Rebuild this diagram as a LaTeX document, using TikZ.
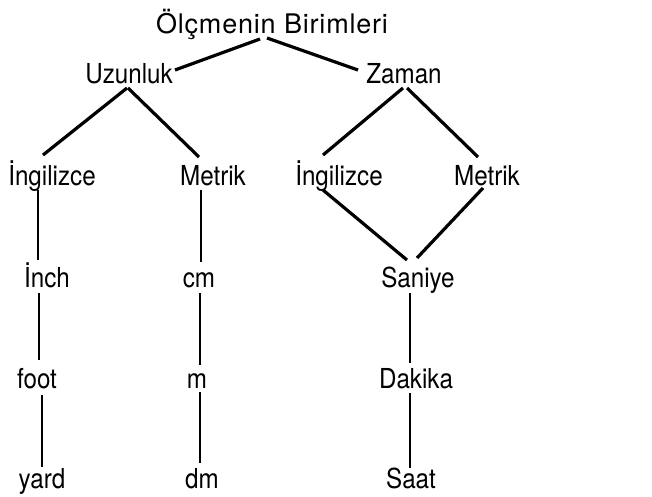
\documentclass[tikz,border=0pt]{standalone}
\usepackage{fontspec}
\setmainfont{TeX Gyre Heros}[FakeStretch=0.88]
\newfontfamily\titlefont{TeX Gyre Heros}[LetterSpace=3]
\usetikzlibrary{calc}
\begin{document}
\begin{tikzpicture}[x=1pt,y=-1pt,
  lbl/.style={anchor=base, inner sep=0pt, font=\fontsize{27.5}{32}\selectfont},
  edge/.style={line width=3.2pt},
  vline/.style={line width=2pt}]
\useasboundingbox (0,0) rectangle (652,496);
% nodes
\node[lbl, font=\titlefont\fontsize{27}{32}\selectfont] (top) at (272,33) {Ölçmenin Birimleri};
\node[lbl] (uz) at (129,83) {Uzunluk};
\node[lbl] (za) at (404,83) {Zaman};
\node[lbl] (ing1) at (52,185) {İngilizce};
\node[lbl] (met1) at (213,185) {Metrik};
\node[lbl] (ing2) at (339,185) {İngilizce};
\node[lbl] (met2) at (487,185) {Metrik};
\node[lbl] (inch) at (47,287) {İnch};
\node[lbl] (cm) at (199,287) {cm};
\node[lbl] (san) at (418,287) {Saniye};
\node[lbl] (foot) at (37,388) {foot};
\node[lbl] (m) at (197,388) {m};
\node[lbl] (dak) at (416,388) {Dakika};
\node[lbl] (yard) at (42,488) {yard};
\node[lbl] (dm) at (202,488) {dm};
\node[lbl] (saat) at (411,488) {Saat};
% diagonal connectors
\draw[edge] ($(top.base)+(-12,6)$) -- ($(uz.base)+(46,-13)$);
\draw[edge] ($(top.base)+(-5,5)$) -- ($(za.base)+(-46,-13)$);
\draw[edge] ($(uz.base)+(-2,5)$) -- ($(ing1.base)+(-9,-30)$);
\draw[edge] ($(uz.base)+(-1,5)$) -- ($(met1.base)+(-14,-28)$);
\draw[edge] ($(za.base)+(-1,5)$) -- ($(ing2.base)+(-16,-30)$);
\draw[edge] ($(za.base)+(3,5)$) -- ($(met2.base)+(-9,-28)$);
\draw[edge] ($(ing2.base)+(-16,5)$) -- ($(san.base)+(-11,-27)$);
\draw[edge] ($(met2.base)+(-4,3)$) -- ($(san.base)+(-1,-29)$);
% vertical connectors
\draw[vline] ($(ing1.base)+(-14,5)$) -- ($(inch.base)+(-9,-27)$);
\draw[vline] ($(met1.base)+(-12,5)$) -- ($(cm.base)+(2,-25)$);
\draw[vline] ($(inch.base)+(-8,6)$) -- ($(foot.base)+(2,-28)$);
\draw[vline] ($(cm.base)+(1,6)$) -- ($(m.base)+(3,-23)$);
\draw[vline] ($(san.base)+(-8,6)$) -- ($(dak.base)+(-6,-25)$);
\draw[vline] ($(foot.base)+(5,7)$) -- ($(yard.base)+(0,-21)$);
\draw[vline] ($(m.base)+(3,4)$) -- ($(dm.base)+(-2,-25)$);
\draw[vline] ($(dak.base)+(-6,5)$) -- ($(saat.base)+(-1,-20)$);
\end{tikzpicture}
\end{document}
